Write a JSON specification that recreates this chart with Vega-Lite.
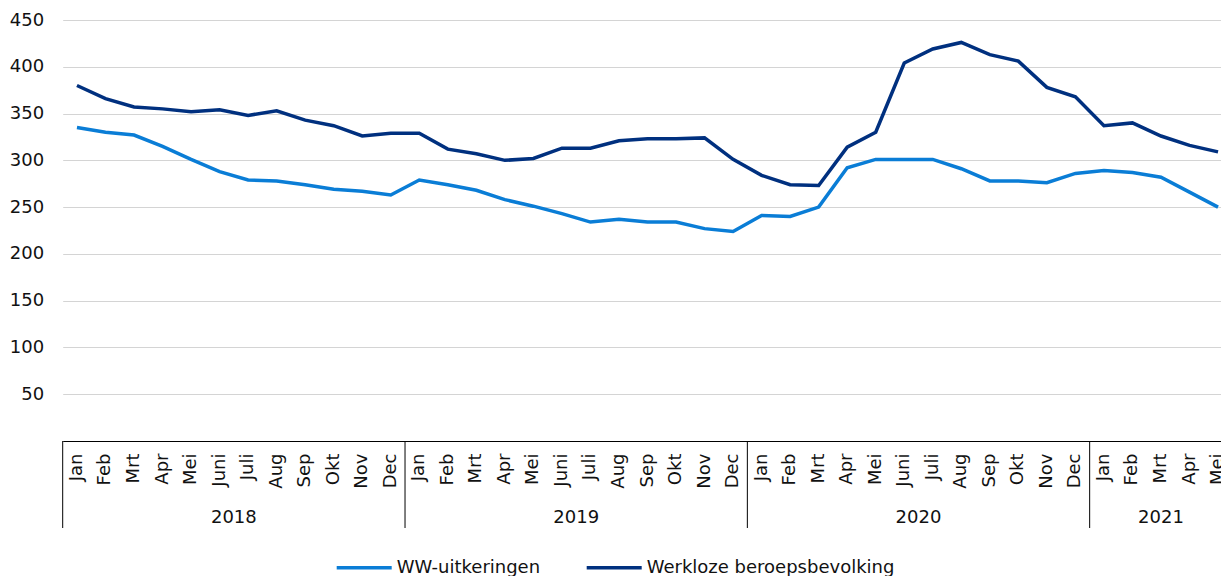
{
  "$schema": "https://vega.github.io/schema/vega-lite/v6.json",
  "width": 1158.3,
  "height": 421,
  "autosize": {"type": "none"},
  "padding": {"left": 62.7, "top": 20, "right": 0, "bottom": 135},
  "background": "white",
  "config": {
    "view": {"stroke": null},
    "font": "DejaVu Sans",
    "text": {"font": "DejaVu Sans"}
  },
  "data": {
    "values": [
      {"maand": "Jan 2018", "jaar": "2018", "WW-uitkeringen": 335, "Werkloze beroepsbevolking": 380},
      {"maand": "Feb 2018", "jaar": "2018", "WW-uitkeringen": 330, "Werkloze beroepsbevolking": 366},
      {"maand": "Mrt 2018", "jaar": "2018", "WW-uitkeringen": 327, "Werkloze beroepsbevolking": 357},
      {"maand": "Apr 2018", "jaar": "2018", "WW-uitkeringen": 315, "Werkloze beroepsbevolking": 355},
      {"maand": "Mei 2018", "jaar": "2018", "WW-uitkeringen": 301, "Werkloze beroepsbevolking": 352},
      {"maand": "Juni 2018", "jaar": "2018", "WW-uitkeringen": 288, "Werkloze beroepsbevolking": 354},
      {"maand": "Juli 2018", "jaar": "2018", "WW-uitkeringen": 279, "Werkloze beroepsbevolking": 348},
      {"maand": "Aug 2018", "jaar": "2018", "WW-uitkeringen": 278, "Werkloze beroepsbevolking": 353},
      {"maand": "Sep 2018", "jaar": "2018", "WW-uitkeringen": 274, "Werkloze beroepsbevolking": 343},
      {"maand": "Okt 2018", "jaar": "2018", "WW-uitkeringen": 269, "Werkloze beroepsbevolking": 337},
      {"maand": "Nov 2018", "jaar": "2018", "WW-uitkeringen": 267, "Werkloze beroepsbevolking": 326},
      {"maand": "Dec 2018", "jaar": "2018", "WW-uitkeringen": 263, "Werkloze beroepsbevolking": 329},
      {"maand": "Jan 2019", "jaar": "2019", "WW-uitkeringen": 279, "Werkloze beroepsbevolking": 329},
      {"maand": "Feb 2019", "jaar": "2019", "WW-uitkeringen": 274, "Werkloze beroepsbevolking": 312},
      {"maand": "Mrt 2019", "jaar": "2019", "WW-uitkeringen": 268, "Werkloze beroepsbevolking": 307},
      {"maand": "Apr 2019", "jaar": "2019", "WW-uitkeringen": 258, "Werkloze beroepsbevolking": 300},
      {"maand": "Mei 2019", "jaar": "2019", "WW-uitkeringen": 251, "Werkloze beroepsbevolking": 302},
      {"maand": "Juni 2019", "jaar": "2019", "WW-uitkeringen": 243, "Werkloze beroepsbevolking": 313},
      {"maand": "Juli 2019", "jaar": "2019", "WW-uitkeringen": 234, "Werkloze beroepsbevolking": 313},
      {"maand": "Aug 2019", "jaar": "2019", "WW-uitkeringen": 237, "Werkloze beroepsbevolking": 321},
      {"maand": "Sep 2019", "jaar": "2019", "WW-uitkeringen": 234, "Werkloze beroepsbevolking": 323},
      {"maand": "Okt 2019", "jaar": "2019", "WW-uitkeringen": 234, "Werkloze beroepsbevolking": 323},
      {"maand": "Nov 2019", "jaar": "2019", "WW-uitkeringen": 227, "Werkloze beroepsbevolking": 324},
      {"maand": "Dec 2019", "jaar": "2019", "WW-uitkeringen": 224, "Werkloze beroepsbevolking": 301},
      {"maand": "Jan 2020", "jaar": "2020", "WW-uitkeringen": 241, "Werkloze beroepsbevolking": 284},
      {"maand": "Feb 2020", "jaar": "2020", "WW-uitkeringen": 240, "Werkloze beroepsbevolking": 274},
      {"maand": "Mrt 2020", "jaar": "2020", "WW-uitkeringen": 250, "Werkloze beroepsbevolking": 273},
      {"maand": "Apr 2020", "jaar": "2020", "WW-uitkeringen": 292, "Werkloze beroepsbevolking": 314},
      {"maand": "Mei 2020", "jaar": "2020", "WW-uitkeringen": 301, "Werkloze beroepsbevolking": 330},
      {"maand": "Juni 2020", "jaar": "2020", "WW-uitkeringen": 301, "Werkloze beroepsbevolking": 404},
      {"maand": "Juli 2020", "jaar": "2020", "WW-uitkeringen": 301, "Werkloze beroepsbevolking": 419},
      {"maand": "Aug 2020", "jaar": "2020", "WW-uitkeringen": 291, "Werkloze beroepsbevolking": 426},
      {"maand": "Sep 2020", "jaar": "2020", "WW-uitkeringen": 278, "Werkloze beroepsbevolking": 413},
      {"maand": "Okt 2020", "jaar": "2020", "WW-uitkeringen": 278, "Werkloze beroepsbevolking": 406},
      {"maand": "Nov 2020", "jaar": "2020", "WW-uitkeringen": 276, "Werkloze beroepsbevolking": 378},
      {"maand": "Dec 2020", "jaar": "2020", "WW-uitkeringen": 286, "Werkloze beroepsbevolking": 368},
      {"maand": "Jan 2021", "jaar": "2021", "WW-uitkeringen": 289, "Werkloze beroepsbevolking": 337},
      {"maand": "Feb 2021", "jaar": "2021", "WW-uitkeringen": 287, "Werkloze beroepsbevolking": 340},
      {"maand": "Mrt 2021", "jaar": "2021", "WW-uitkeringen": 282, "Werkloze beroepsbevolking": 326},
      {"maand": "Apr 2021", "jaar": "2021", "WW-uitkeringen": 266, "Werkloze beroepsbevolking": 316},
      {"maand": "Mei 2021", "jaar": "2021", "WW-uitkeringen": 250, "Werkloze beroepsbevolking": 309}
    ]
  },
  "layer": [
    {
      "transform": [{"fold": ["WW-uitkeringen", "Werkloze beroepsbevolking"], "as": ["serie", "waarde"]}],
      "mark": {"type": "line", "strokeWidth": 3.5, "clip": false},
      "encoding": {
        "x": {
          "field": "maand",
          "type": "ordinal",
          "sort": null,
          "scale": {
            "domain": ["Jan 2018","Feb 2018","Mrt 2018","Apr 2018","Mei 2018","Juni 2018","Juli 2018","Aug 2018","Sep 2018","Okt 2018","Nov 2018","Dec 2018",
                       "Jan 2019","Feb 2019","Mrt 2019","Apr 2019","Mei 2019","Juni 2019","Juli 2019","Aug 2019","Sep 2019","Okt 2019","Nov 2019","Dec 2019",
                       "Jan 2020","Feb 2020","Mrt 2020","Apr 2020","Mei 2020","Juni 2020","Juli 2020","Aug 2020","Sep 2020","Okt 2020","Nov 2020","Dec 2020",
                       "Jan 2021","Feb 2021","Mrt 2021","Apr 2021","Mei 2021"],
            "range": [0, 1169.6],
            "paddingInner": 0,
            "paddingOuter": 0
          },
          "axis": {
            "title": null,
            "labelExpr": "split(datum.value, ' ')[0]",
            "labelAngle": 270,
            "labelAlign": "right",
            "labelBaseline": "middle",
            "labelPadding": 12,
            "labelFontSize": 18,
            "labelFont": "DejaVu Sans",
            "labelColor": "#111111",
            "labelOverlap": false,
            "labelBound": false,
            "labelFlush": false,
            "ticks": false,
            "grid": false,
            "domain": true,
            "domainColor": "#000000",
            "domainWidth": 1
          }
        },
        "y": {
          "field": "waarde",
          "type": "quantitative",
          "scale": {"domain": [0, 450], "nice": false, "zero": true},
          "axis": {
            "title": null,
            "values": [50, 100, 150, 200, 250, 300, 350, 400, 450],
            "labelFontSize": 18,
            "labelFont": "DejaVu Sans",
            "labelColor": "#111111",
            "labelPadding": 19,
            "ticks": false,
            "domain": false,
            "grid": true,
            "gridColor": "#d4d4d4",
            "gridWidth": 1.2
          }
        },
        "color": {
          "field": "serie",
          "type": "nominal",
          "scale": {
            "domain": ["WW-uitkeringen", "Werkloze beroepsbevolking"],
            "range": ["#0a7dd6", "#00307f"]
          },
          "legend": {
            "title": null,
            "orient": "none",
            "legendX": 272,
            "legendY": 518,
            "direction": "horizontal",
            "symbolType": "stroke",
            "symbolSize": 3025,
            "symbolStrokeWidth": 3.5,
            "labelFontSize": 18,
            "labelFont": "DejaVu Sans",
            "labelColor": "#111111",
            "labelOffset": 3,
            "columnPadding": 39,
            "padding": 0,
            "labelLimit": 400
          }
        }
      }
    },
    {
      "transform": [{"filter": "indexof(datum.maand, 'Jan ') == 0"}],
      "mark": {"type": "rule", "color": "#000000", "strokeWidth": 1, "clip": false},
      "encoding": {
        "x": {"field": "maand", "type": "ordinal", "sort": null, "bandPosition": 0},
        "y": {"datum": 0},
        "y2": {"datum": -93}
      }
    },
    {
      "transform": [{"filter": "indexof(datum.maand, 'Juli ') == 0"}],
      "mark": {"type": "text", "fontSize": 18, "font": "DejaVu Sans", "color": "#111111", "align": "center", "baseline": "middle", "clip": false},
      "encoding": {
        "x": {"field": "maand", "type": "ordinal", "sort": null, "bandPosition": 0},
        "y": {"datum": -82},
        "text": {"field": "jaar"}
      }
    },
    {
      "transform": [{"filter": "datum.maand == 'Mrt 2021'"}],
      "mark": {"type": "text", "fontSize": 18, "font": "DejaVu Sans", "color": "#111111", "align": "center", "baseline": "middle", "clip": false},
      "encoding": {
        "x": {"field": "maand", "type": "ordinal", "sort": null, "bandPosition": 0.5},
        "y": {"datum": -82},
        "text": {"field": "jaar"}
      }
    }
  ]
}
